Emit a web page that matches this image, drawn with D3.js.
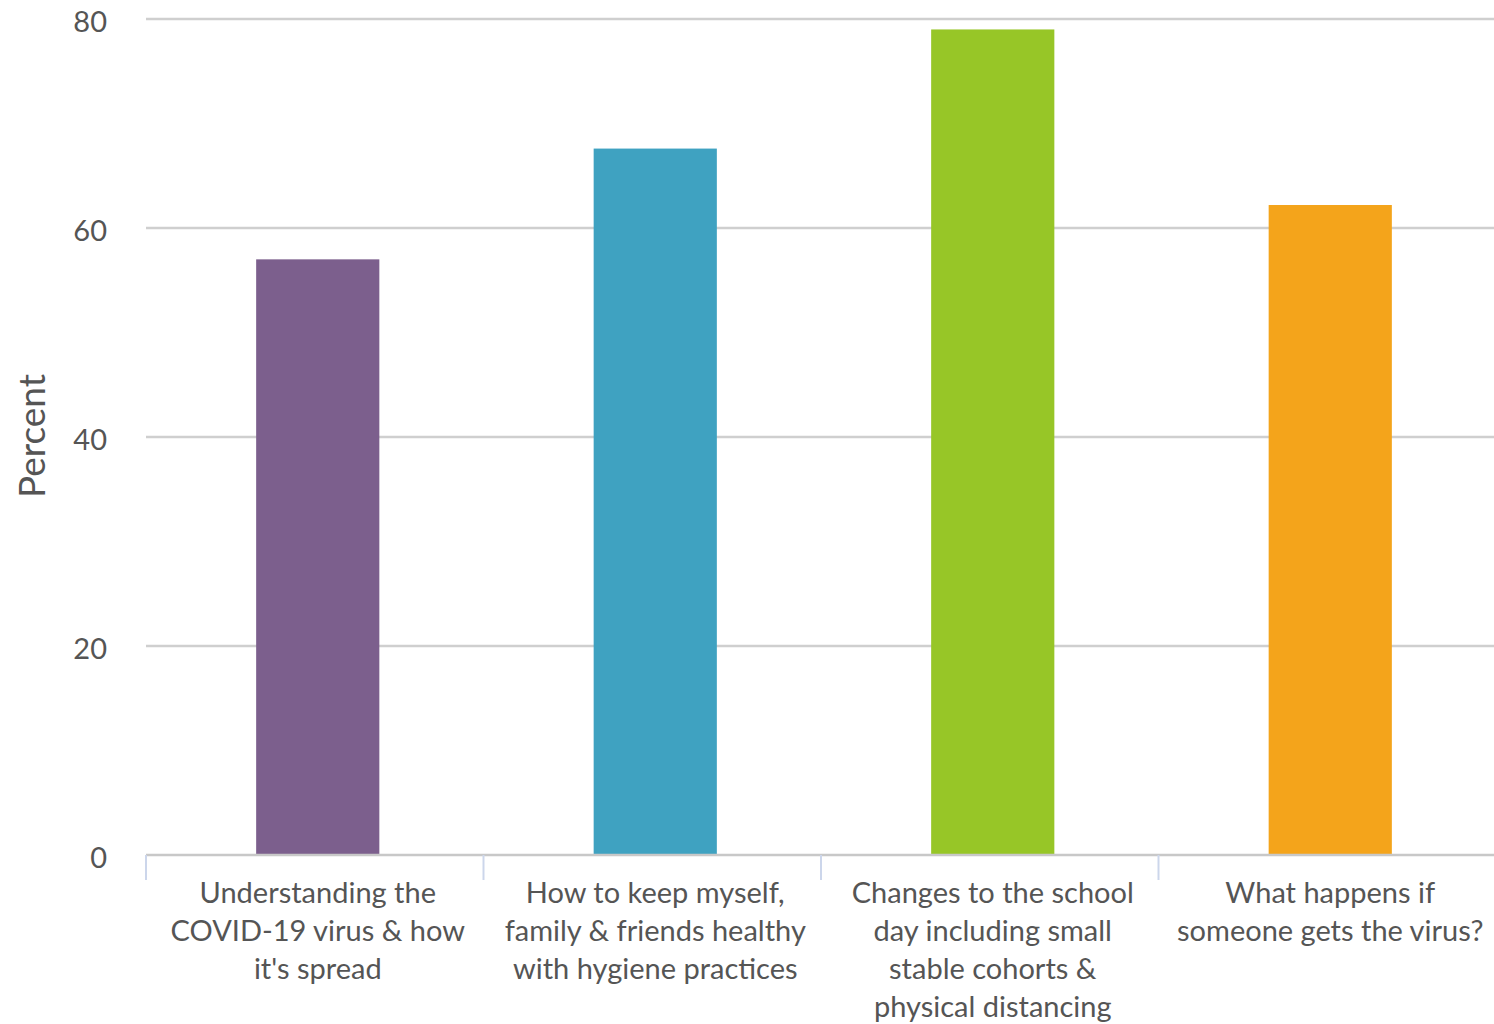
<!DOCTYPE html>
<html><head><meta charset="utf-8">
<script src="https://cdn.jsdelivr.net/npm/d3@7"></script>
<style>body{margin:0;background:#fff;} svg{display:block;font-family:Lato,"Open Sans",sans-serif;}</style>
</head><body><svg id="c" width="1494" height="1024"></svg>
<script>
const categories = [
  ["Understanding the","COVID-19 virus & how","it's spread"],
  ["How to keep myself,","family & friends healthy","with hygiene practices"],
  ["Changes to the school","day including small","stable cohorts &","physical distancing"],
  ["What happens if","someone gets the virus?"]
];
const values = [57.0, 67.6, 79.0, 62.2];
const colors = ["#7c5f8d", "#3fa2c1", "#97c627", "#f4a41b"];
const yTicks = [0, 20, 40, 60, 80];

(function(){
const svg = d3.select("#c");
const mL = 146, mR = 1496, mT = 19, mB = 855;
const keys = categories.map((d,i)=>i);
const xb = d3.scaleBand().domain(keys).range([mL, mR]);
const x = d3.scaleBand().domain(keys).range([mL + 3, mR + 3]).paddingInner(0.635).paddingOuter(0.3175);
const y = d3.scaleLinear().domain([0, 80]).range([mB, mT]);

svg.append("g").selectAll("line").data(yTicks.filter(t=>t>0)).join("line")
  .attr("x1", mL).attr("x2", 1494).attr("y1", d=>y(d)).attr("y2", d=>y(d))
  .attr("stroke", "#cfcfcf").attr("stroke-width", 2.5);

svg.append("g").selectAll("text").data(yTicks).join("text")
  .attr("x", 107).attr("y", d=>y(d) + 3).attr("dy", "0.36em")
  .attr("text-anchor", "end").attr("font-size", 29).attr("fill", "#555")
  .text(d=>d);

svg.append("g").selectAll("rect").data(values).join("rect")
  .attr("x", (d,i)=>x(i)).attr("width", x.bandwidth())
  .attr("y", d=>y(d)).attr("height", d=>y(0)-y(d))
  .attr("fill", (d,i)=>colors[i]);

svg.append("line").attr("x1", mL).attr("x2", 1494).attr("y1", mB).attr("y2", mB)
  .attr("stroke", "#c8c8c8").attr("stroke-width", 2.5);
svg.append("g").selectAll("line").data(keys).join("line")
  .attr("x1", d=>xb(d)).attr("x2", d=>xb(d)).attr("y1", mB).attr("y2", mB+25)
  .attr("stroke", "#ccd6eb").attr("stroke-width", 2);

const lab = svg.append("g");
categories.forEach((lines, i) => {
  const cx = x(i) + x.bandwidth()/2;
  const t = lab.append("text").attr("text-anchor", "middle").attr("font-size", 29).attr("fill", "#555");
  lines.forEach((ln, j) => {
    t.append("tspan").attr("x", cx).attr("y", 893 + j*38).attr("dy", "0.36em").text(ln);
  });
});

svg.append("text").attr("transform", "translate(32,436) rotate(-90)")
  .attr("text-anchor", "middle").attr("dy", "0.36em").attr("font-size", 37).attr("fill", "#555")
  .text("Percent");
})();
</script></body></html>
